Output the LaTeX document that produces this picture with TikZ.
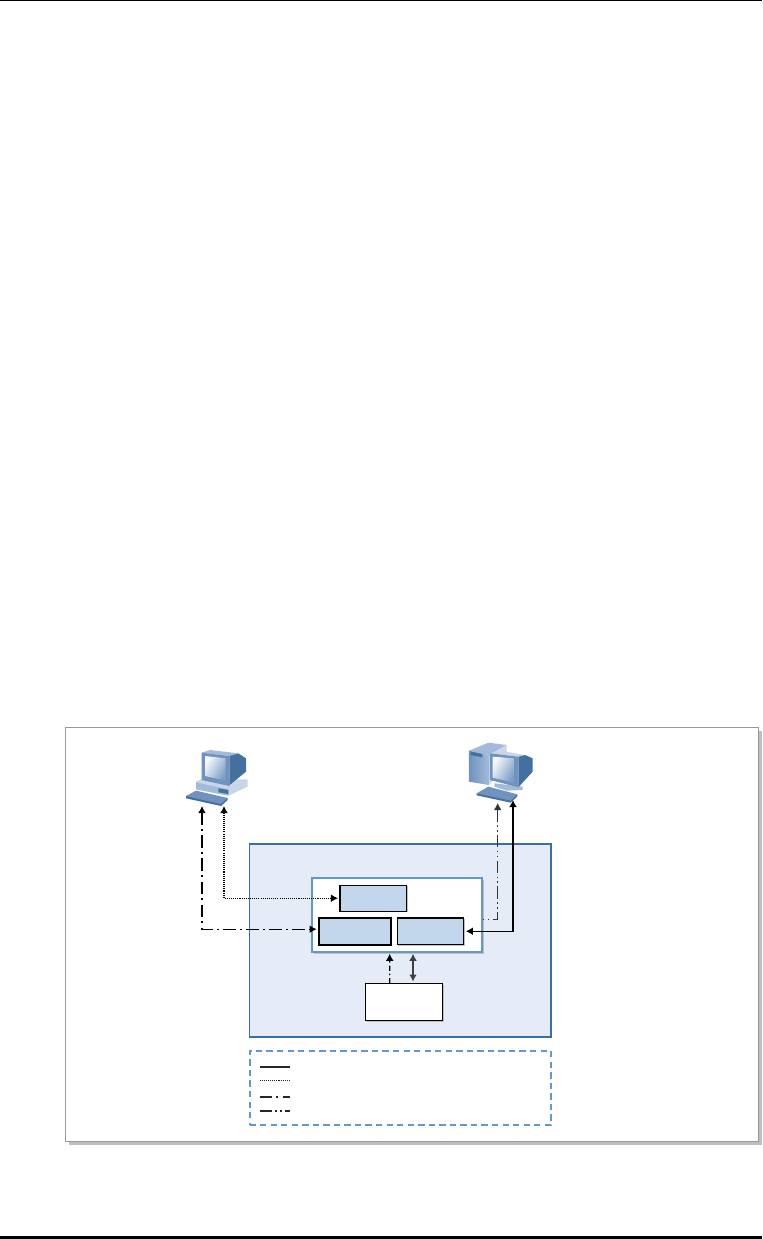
\documentclass[tikz,border=0pt]{standalone}
\usetikzlibrary{arrows.meta,positioning,calc,shadows}
\usepackage{xcolor}
\definecolor{FrameGray}{HTML}{999999}
\definecolor{ShadeGray}{HTML}{BFBFBF}
\definecolor{HostBlue}{HTML}{E6ECF7}
\definecolor{HostEdge}{HTML}{3A6EA5}
\definecolor{PanelEdge}{HTML}{6498CC}
\definecolor{BoxBlue}{HTML}{C3D7EC}
\definecolor{PcMid}{HTML}{6F93BE}
\definecolor{PcDark}{HTML}{44709F}
\definecolor{PcLight}{HTML}{A3BBD8}
\definecolor{PcPale}{HTML}{C8D6E8}

\begin{document}
\begin{tikzpicture}[x=0.02cm,y=-0.02cm,
  shadowbox/.style={general shadow={fill=ShadeGray,shadow xshift=#1,shadow yshift=-#1}},
  cellbox/.style={draw=black,fill=BoxBlue,line width=0.7pt,outer sep=0pt,inner sep=0pt,shadowbox=0.7pt},
  link/.style={black,line width=0.65pt,shorten >=1.2pt,-{Latex[length=4pt,width=4.4pt]}},
  linkboth/.style={link,{Latex[length=4pt,width=4.4pt]}-{Latex[length=4pt,width=4.4pt]}},
  dashone/.style={dash pattern=on 7pt off 2.6pt on 0.9pt off 2.6pt},
  dashtwo/.style={dash pattern=on 7pt off 2pt on 0.8pt off 2pt on 0.8pt off 2pt},
  dotline/.style={dash pattern=on 0.6pt off 0.6pt}]
  \useasboundingbox (0,0) rectangle (762,1239);
  \fill[black] (0,0) rectangle (762,1.2);
  \fill[black] (0,1236) rectangle (762,1239);
  \node[draw=FrameGray,fill=white,line width=0.6pt,minimum width=13.88cm,minimum height=8.3cm,outer sep=0pt,shadowbox=2pt] (frame) at (412,934.5) {};
  \node[draw=HostEdge,fill=HostBlue,line width=0.7pt,minimum width=6.03cm,minimum height=3.86cm,outer sep=0pt] (hostbox) at (400.25,940.5) {};
  \node[draw=PanelEdge,fill=white,line width=1.2pt,minimum width=3.4cm,minimum height=1.48cm,outer sep=0pt,shadowbox=1.1pt] (panel) at (397,915) {};
  \node[cellbox,line width=1.1pt,minimum width=1.44cm,minimum height=0.54cm] (boxleft) at (354.7,931.2) {};
  \node[cellbox,minimum width=1.33cm,minimum height=0.53cm,right=0.13cm of boxleft] (boxright) {};
  \node[cellbox,minimum width=1.334cm,minimum height=0.52cm,above=0.13cm of boxleft,xshift=0.374cm] (boxtop) {};
  \node[draw=black,fill=white,line width=0.8pt,minimum width=1.54cm,minimum height=0.75cm,outer sep=0pt,shadowbox=0.7pt,below=0.626cm of panel,xshift=0.136cm] (dbbox) {};
  \node[draw=PanelEdge,dash pattern=on 3.6pt off 2.4pt,line width=1.15pt,minimum width=6.03cm,minimum height=1.48cm,outer sep=0pt,below=0.28cm of hostbox] (legendbox) {};
  % left computer
  \begin{scope}[shift={(160,730)},x=0.02cm/3,y=-0.02cm/3]
    \fill[PcPale] (108,155)--(125,147)--(263,148)--(263,170)--(205,197)--(108,178)--cycle;
    \fill[PcLight] (108,178)--(205,197)--(205,178)--(108,157)--cycle;
    \fill[PcDark] (175,175)--(205,180)--(205,192)--(175,187)--cycle;
    \fill[PcDark] (208,72)--(235,70)--(258,85)--(258,125)--(208,166)--cycle;
    \fill[PcLight] (125,68)--(150,60)--(235,70)--(208,78)--cycle;
    \fill[PcMid] (125,68)--(208,78)--(208,168)--(125,150)--cycle;
    \shade[left color=white!90!PcLight,right color=PcMid!90,shading angle=60] (135,78)--(197,85)--(197,152)--(135,138)--cycle;
    \fill[PcDark] (78,198)--(78,205)--(183,228)--(203,210)--(203,204)--cycle;
    \fill[PcMid] (78,198)--(108,182)--(203,204)--(183,222)--cycle;
  \end{scope}
  % right computer
  \begin{scope}[shift={(160,730)},x=0.02cm/3,y=-0.02cm/3]
    \fill[PcLight] (927,62)--(985,38)--(1040,45)--(987,75)--cycle;
    \fill[PcPale] (987,75)--(1040,45)--(1040,100)--(987,165)--cycle;
    \shade[left color=PcMid,right color=PcLight] (927,62)--(987,75)--(987,165)--(927,155)--cycle;
    \fill[PcDark] (932,65)--(967,72)--(967,82)--(932,75)--cycle;
    \fill[PcLight] (1003,160)--(1088,170)--(1088,180)--(1040,182)--(1003,170)--cycle;
    \fill[PcDark] (1075,75)--(1095,75)--(1118,85)--(1118,125)--(1075,172)--cycle;
    \fill[PcPale] (990,70)--(1020,62)--(1095,75)--(1075,80)--cycle;
    \fill[PcMid] (990,70)--(1075,80)--(1075,172)--(990,150)--cycle;
    \shade[left color=white!90!PcLight,right color=PcMid!90,shading angle=60] (998,80)--(1062,85)--(1062,158)--(998,143)--cycle;
    \fill[PcDark] (950,190)--(950,196)--(1052,218)--(1072,199)--(1072,193)--cycle;
    \fill[PcMid] (950,190)--(985,170)--(1072,193)--(1052,212)--cycle;
  \end{scope}
  \coordinate (pcleftA) at (202,806);
  \coordinate (pcleftB) at (224,806);
  \coordinate (pcrightA) at (497.7,803);
  \coordinate (pcrightB) at (513,800);
  \draw[linkboth,dashone] (pcleftA) |- ($(boxleft.west)+(0,-2)$);
  \draw[linkboth,dotline] (pcleftB) |- (boxtop.west);
  \draw[linkboth,line width=0.8pt] (pcrightB) |- (boxright.east);
  \draw[link,black!80,dashtwo,shorten >=0pt,{Latex[length=4pt,width=4.4pt]}-] (pcrightA) |- ($(panel.east)+(0,4.3)$);
  \draw[link,dash pattern=on 3pt off 1.6pt on 0.9pt off 1.6pt,shorten >=1pt] ($(dbbox.north)+(-14.1,0)$) -- ($(panel.south)+(-7.3,0)$);
  \draw[linkboth,line width=1pt,black!75,shorten >=1pt,shorten <=1pt] ($(dbbox.north)+(9.2,0)$) -- ($(panel.south)+(16,0)$);
  % legend samples
  \foreach \n/\y/\s in {a/1067/solid,b/1080.5/dotline,c/1097/dashone,d/1111/dashtwo}{
    \coordinate (key\n) at (259.5,\y);
    \coordinate (val\n) at (290,\y);
    \draw[black!85,line width=0.7pt,\s] (key\n)--(val\n);
  }
\end{tikzpicture}
\end{document}
